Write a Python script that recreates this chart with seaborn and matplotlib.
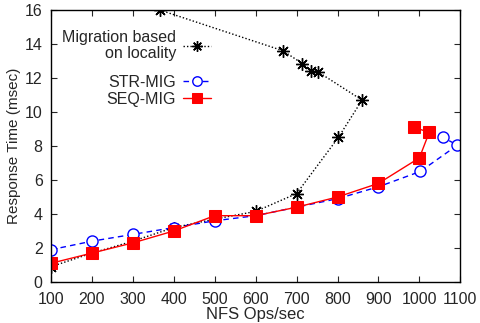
import pandas as pd
import numpy as np
import matplotlib
matplotlib.use("Agg")
import matplotlib.pyplot as plt
import seaborn as sns

# Migration based on locality
loc_ops  = [100, 200, 300, 400, 500, 600, 700, 802, 860, 753, 736, 714, 667, 366]
loc_resp = [0.9, 1.7, 2.4, 3.2, 3.7, 4.15, 5.2, 8.5, 10.7, 12.35, 12.4, 12.85, 13.6, 16.0]

# STR-MIG
str_ops  = [100, 200, 300, 400, 500, 600, 700, 800, 900, 1002, 1093, 1058]
str_resp = [1.9, 2.4, 2.8, 3.2, 3.6, 3.9, 4.4, 4.9, 5.6, 6.5, 8.05, 8.5]

# SEQ-MIG
seq_ops  = [100, 200, 300, 400, 500, 600, 700, 800, 900, 1000, 1024, 987]
seq_resp = [1.1, 1.7, 2.3, 3.0, 3.9, 3.9, 4.4, 5.0, 5.8, 7.3, 8.8, 9.1]

sns.set_style("ticks")
plt.rcParams['font.family'] = ['Liberation Sans', 'DejaVu Sans']

fig, ax = plt.subplots(figsize=(4.81, 3.23), dpi=100)

df_loc = pd.DataFrame({"ops": loc_ops, "resp": loc_resp})
df_str = pd.DataFrame({"ops": str_ops, "resp": str_resp})
df_seq = pd.DataFrame({"ops": seq_ops, "resp": seq_resp})

sns.lineplot(data=df_loc, x="ops", y="resp", sort=False, ax=ax, color="black",
             linestyle=(0, (1, 1.5)), linewidth=1, marker=(8, 2, 0), markersize=9,
             markeredgecolor="black", markeredgewidth=1, label="Migration based\non locality")
sns.lineplot(data=df_str, x="ops", y="resp", sort=False, ax=ax, color="#0000ff",
             linestyle=(0, (4, 3)), linewidth=1, marker="o", markersize=8,
             markerfacecolor="white", markeredgecolor="#0000ff", markeredgewidth=1,
             label="STR-MIG")
sns.lineplot(data=df_seq, x="ops", y="resp", sort=False, ax=ax, color="#ff0000",
             linewidth=1, marker="s", markersize=8, markeredgecolor="#ff0000",
             label="SEQ-MIG")

ax.set_xlim(100, 1100)
ax.set_ylim(0, 16)
ax.set_xticks(np.arange(100, 1101, 100))
ax.set_yticks(np.arange(0, 17, 2))
ax.tick_params(direction="in", top=True, right=True, labelsize=11.5, length=4)
ax.tick_params(axis="x", pad=7)
ax.tick_params(axis="y", pad=6)
ax.set_xlabel("NFS Ops/sec", fontsize=12, labelpad=0)
ax.set_ylabel("Response Time (msec)", fontsize=11, labelpad=3)
for s in ax.spines.values():
    s.set_visible(True)
    s.set_linewidth(1)
    s.set_color("black")

handles, labels = ax.get_legend_handles_labels()


def right_legend(h, l, anchor):
    lg = ax.legend(h, l, loc="upper right", bbox_to_anchor=anchor, frameon=False,
                   markerfirst=False, fontsize=11.5, handlelength=1.75, markerscale=0.85,
                   labelspacing=0.12, handletextpad=0.4)
    for t in lg.get_texts():
        t.set_ha("right")
        t.set_multialignment("right")
        t.set_linespacing(1.08)
    lg._legend_box.align = "right"
    return lg


leg1 = right_legend(handles[:1], labels[:1], (0.425, 0.978))
ax.add_artist(leg1)
right_legend(handles[1:], labels[1:], (0.425, 0.815))

fig.subplots_adjust(left=0.106, right=0.957, top=0.969, bottom=0.127)
fig.savefig("out.png", dpi=100)
